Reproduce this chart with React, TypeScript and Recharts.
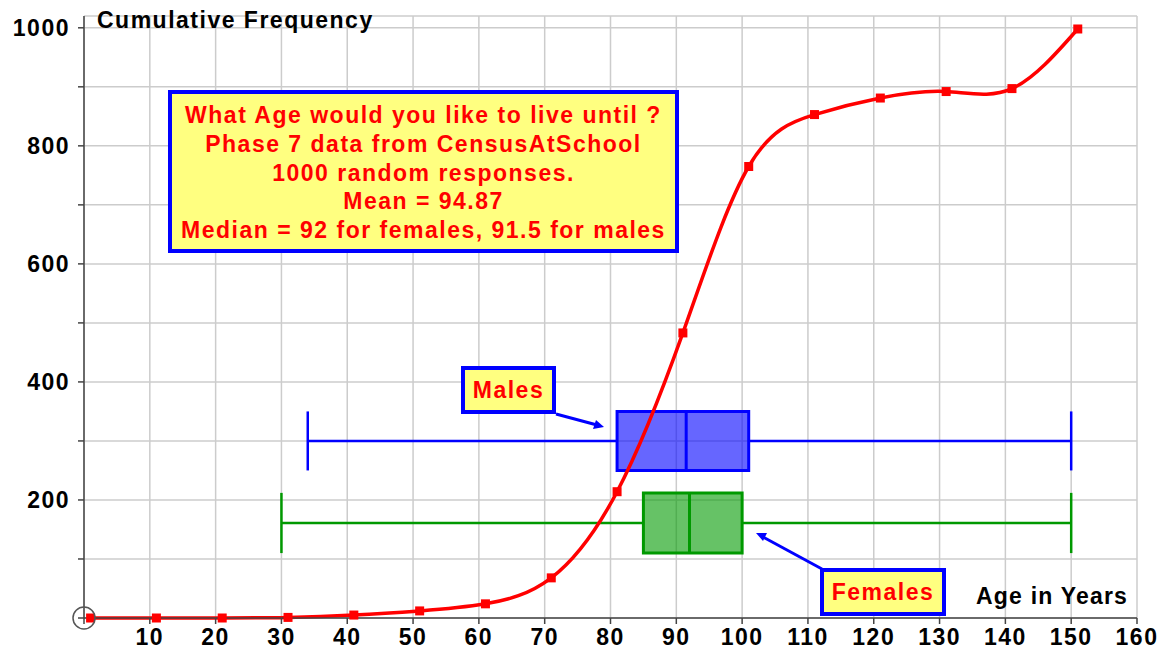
import React from 'react';
import {
  ComposedChart,
  Line,
  XAxis,
  YAxis,
  CartesianGrid,
  ReferenceArea,
  ReferenceLine,
  ReferenceDot,
} from 'recharts';

// cumulative frequency curve (upper end of each 10-year class)
const ages = [1, 11, 21, 31, 41, 51, 61, 71, 81, 91, 101, 111, 121, 131, 141, 151];
const cumFreq = [0, 0, 0, 1, 5, 12, 24, 68, 214, 483, 765, 853, 881, 892, 897, 998];

const xTicks = [0, 10, 20, 30, 40, 50, 60, 70, 80, 90, 100, 110, 120, 130, 140, 150, 160];
const yTicks = [0, 100, 200, 300, 400, 500, 600, 700, 800, 900, 1000];
const yLabelled = [200, 400, 600, 800, 1000];

// box plots
const groups = ['Males', 'Females'];
const boxMin = [34, 30];
const boxQ1 = [81, 85];
const boxMedian = [91.5, 92];
const boxQ3 = [101, 100];
const boxMax = [150, 150];
const boxRow = [300, 161];
const boxHalf = [50, 51];
const boxStroke = ['#0000ff', '#009900'];

const infoLines = [
  'What Age would you like to live until ?',
  'Phase 7 data from CensusAtSchool',
  '1000 random responses.',
  'Mean = 94.87',
  'Median = 92 for females, 91.5 for males',
];

const data = ages.map((age, i) => ({ age, cf: cumFreq[i] }));

const font = '"Liberation Sans", Arial, sans-serif';
const tickStyle = { fill: '#000', fontSize: 23, fontWeight: 700, fontFamily: font, letterSpacing: 1.5 };

if (typeof document !== 'undefined') document.body.style.margin = '0';

const SquareDot = (props: any) => {
  const { cx, cy, index } = props;
  if (cx == null || cy == null) return null;
  return <rect key={index} x={cx - 4.5} y={cy - 4.5} width={9} height={9} fill="#ff0000" />;
};

const labelBox = {
  position: 'absolute' as const,
  background: '#ffff80',
  border: '4px solid #0000ff',
  boxSizing: 'border-box' as const,
  color: '#ff0000',
  fontFamily: font,
  fontWeight: 700,
  fontSize: 23,
  letterSpacing: 1.5,
  textAlign: 'center' as const,
};

export default function App() {
  return (
    <div style={{ position: 'relative', width: 1166, height: 655, background: '#fff' }}>
      <ComposedChart width={1166} height={655} data={data} margin={{ top: 16, right: 29, left: 0, bottom: 0 }}>
        <CartesianGrid stroke="#cccccc" strokeWidth={1.5} />
        <XAxis
          dataKey="age"
          type="number"
          domain={[0, 160]}
          ticks={xTicks}
          interval={0}
          height={37}
          tickFormatter={(v: number) => (v === 0 ? '' : String(v))}
          tick={tickStyle}
          stroke="#444"
          strokeWidth={1.5}
          tickSize={6}
          tickMargin={5}
        />
        <YAxis
          type="number"
          domain={[0, 1020]}
          ticks={yTicks}
          interval={0}
          width={84}
          tickFormatter={(v: number) => (yLabelled.includes(v) ? String(v) : '')}
          tick={tickStyle}
          stroke="#444"
          strokeWidth={1.5}
          tickSize={6}
          tickMargin={8}
        />
        {groups.map((g, i) => (
          <ReferenceLine
            key={g + '-wl'}
            segment={[{ x: boxMin[i], y: boxRow[i] }, { x: boxQ1[i], y: boxRow[i] }]}
            stroke={boxStroke[i]}
            strokeWidth={2.5}
          />
        ))}
        {groups.map((g, i) => (
          <ReferenceLine
            key={g + '-wr'}
            segment={[{ x: boxQ3[i], y: boxRow[i] }, { x: boxMax[i], y: boxRow[i] }]}
            stroke={boxStroke[i]}
            strokeWidth={2.5}
          />
        ))}
        {groups.map((g, i) => (
          <ReferenceLine
            key={g + '-cl'}
            segment={[{ x: boxMin[i], y: boxRow[i] - boxHalf[i] }, { x: boxMin[i], y: boxRow[i] + boxHalf[i] }]}
            stroke={boxStroke[i]}
            strokeWidth={2.5}
          />
        ))}
        {groups.map((g, i) => (
          <ReferenceLine
            key={g + '-cr'}
            segment={[{ x: boxMax[i], y: boxRow[i] - boxHalf[i] }, { x: boxMax[i], y: boxRow[i] + boxHalf[i] }]}
            stroke={boxStroke[i]}
            strokeWidth={2.5}
          />
        ))}
        {groups.map((g, i) => (
          <ReferenceArea
            key={g + '-box'}
            x1={boxQ1[i]}
            x2={boxQ3[i]}
            y1={boxRow[i] - boxHalf[i]}
            y2={boxRow[i] + boxHalf[i]}
            fill={boxStroke[i]}
            fillOpacity={0.6}
            stroke={boxStroke[i]}
            strokeWidth={3}
          />
        ))}
        {groups.map((g, i) => (
          <ReferenceLine
            key={g + '-med'}
            segment={[{ x: boxMedian[i], y: boxRow[i] - boxHalf[i] }, { x: boxMedian[i], y: boxRow[i] + boxHalf[i] }]}
            stroke={boxStroke[i]}
            strokeWidth={3}
          />
        ))}
        <Line
          type="natural"
          dataKey="cf"
          stroke="#ff0000"
          strokeWidth={3.5}
          dot={<SquareDot />}
          activeDot={false}
          isAnimationActive={false}
        />
        <ReferenceDot x={0} y={0} r={11} fill="none" stroke="#555" strokeWidth={1.5} ifOverflow="visible" />
      </ComposedChart>

      <svg width={1166} height={655} style={{ position: 'absolute', left: 0, top: 0, pointerEvents: 'none' }}>
        <text x={97} y={28} fontFamily={font} fontWeight={700} fontSize={23} letterSpacing={1.5} fill="#000">
          Cumulative Frequency
        </text>
        <text x={976} y={604} fontFamily={font} fontWeight={700} fontSize={23} letterSpacing={1.2} fill="#000">
          Age in Years
        </text>
        <line x1={556} y1={414} x2={597} y2={425} stroke="#0000ff" strokeWidth={3} />
        <polygon points="604,427 593,429 596,420" fill="#0000ff" />
        <line x1={822} y1={569} x2={763} y2={537} stroke="#0000ff" strokeWidth={3} />
        <polygon points="756,533 767,533 763,541" fill="#0000ff" />
      </svg>

      <div style={{ ...labelBox, left: 168, top: 90, width: 511, height: 163, paddingTop: 7, lineHeight: '28.75px' }}>
        {infoLines.map((l) => (
          <div key={l}>{l}</div>
        ))}
      </div>
      <div style={{ ...labelBox, left: 461, top: 366, width: 95, height: 48, lineHeight: '40px' }}>Males</div>
      <div style={{ ...labelBox, left: 820, top: 568, width: 126, height: 48, lineHeight: '40px' }}>Females</div>
    </div>
  );
}
